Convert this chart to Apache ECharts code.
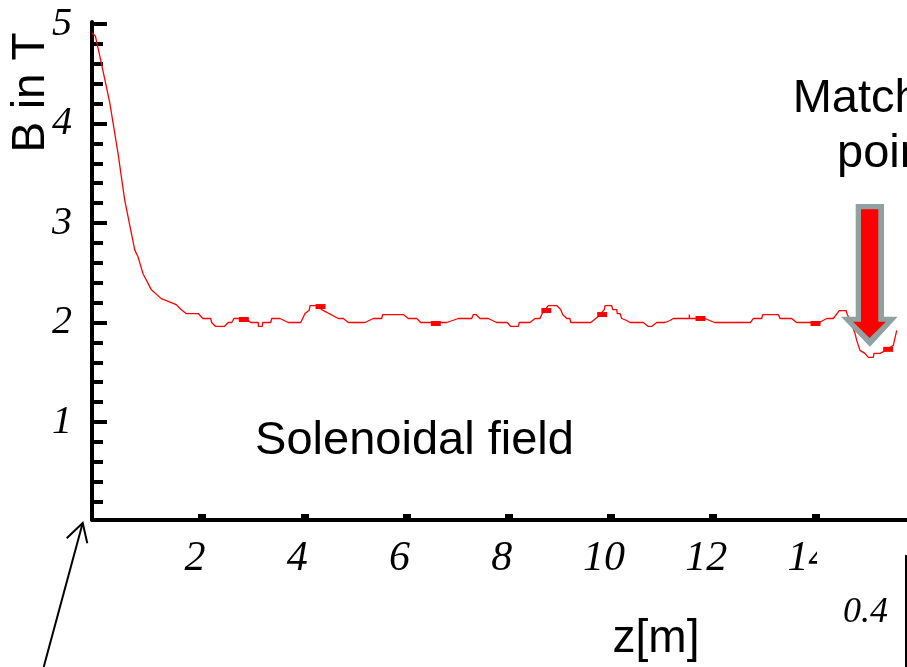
<!DOCTYPE html>
<html><head><meta charset="utf-8">
<script src="https://cdn.jsdelivr.net/npm/echarts@6/dist/echarts.min.js"></script>
<style>html,body{margin:0;padding:0;background:#fff}#c{width:907px;height:667px}</style>
</head><body><div id="c"></div>
<script>
// z in metres
const fieldZ = [-0.152,-0.087,0.030,0.195,0.357,0.488,0.684,0.748,0.846,1.008,1.204,1.497,1.570,1.687,1.928,
 2.014,2.170,2.189,2.267,2.436,2.514,2.581,2.626,2.730,2.906,2.953,3.101,3.102,3.179,3.187,3.344,3.363,3.526,3.688,3.931,
 4.015,4.093,4.113,4.244,4.341,4.666,4.764,4.862,5.188,5.351,5.515,5.535,5.937,6.035,6.200,6.278,6.786,
 7.013,7.275,7.307,7.359,7.438,7.600,7.764,7.972,8.038,8.187,8.206,8.416,8.513,8.611,8.664,8.774,8.938,9.016,9.055,9.134,9.198,9.212,9.603,
 9.752,9.869,9.883,10.014,10.033,10.112,10.123,10.176,10.210,10.307,10.372,10.632,10.730,10.796,10.894,11.056,11.154,11.219,11.532,11.532,11.533,11.836,
 12.025,12.729,12.783,12.948,12.967,13.273,13.306,13.535,13.632,14.075,14.219,14.348,14.466,14.597,14.622,14.695,
 14.773,14.806,14.871,14.968,15.033,15.131,15.145,15.262,15.340,15.522,15.589];
// B in T
const fieldB = [4.91,4.88,4.61,4.21,3.70,3.23,2.73,2.66,2.49,2.33,2.24,2.18,2.14,2.09,2.09,
 2.04,2.04,2.00,1.96,1.96,2.00,2.00,2.04,2.04,2.02,2.00,2.00,1.96,1.96,2.00,2.00,2.04,2.04,2.00,2.00,
 2.09,2.12,2.17,2.17,2.13,2.04,2.04,2.00,2.00,2.04,2.04,2.08,2.08,2.04,2.04,2.00,2.00,
 2.04,2.04,2.08,2.08,2.04,2.04,2.00,2.00,1.96,1.96,2.00,2.00,2.04,2.04,2.10,2.17,2.17,2.13,2.08,2.04,2.04,2.00,2.00,
 2.06,2.13,2.17,2.17,2.13,2.13,2.09,2.09,2.04,2.02,2.00,2.00,1.96,1.96,2.00,2.00,2.02,2.04,2.04,2.08,2.04,2.04,
 2.00,2.00,2.04,2.04,2.08,2.08,2.04,2.04,2.00,2.00,2.04,2.04,2.12,2.12,2.08,2.00,
 1.89,1.82,1.72,1.69,1.65,1.65,1.69,1.69,1.71,1.77,1.92];
const markerZ = [2.818,4.318,6.573,8.735,9.828,11.751,14.000,15.422];
const markerB = [2.03,2.16,1.99,2.12,2.08,2.04,1.99,1.73];
const xTickValues = [2,4,6,8,10,12,14];
const yTickValues = [1,2,3,4,5];
const yMinorTickValues = [0.2,0.4,0.6,0.8,1.2,1.4,1.6,1.8,2.2,2.4,2.6,2.8,3.2,3.4,3.6,3.8,4.2,4.4,4.6,4.8];
const yAxisTitle = 'B in T';
const xAxisTitle = 'z[m]';
const fieldNote = 'Solenoidal field';
const matchLine1 = 'Matching';
const matchLine2 = 'point';
const sideLabel = '0.4';

const lineData = fieldZ.map((z, i) => [z, fieldB[i]]);
const markData = markerZ.map((z, i) => [z, markerB[i]]);

const serif = {fontFamily: 'Liberation Serif', fontStyle: 'italic', color: '#000'};
const sans = 'Liberation Sans';

const chart = echarts.init(document.getElementById('c'));
chart.setOption({
  animation: false,
  backgroundColor: '#fff',
  grid: {left: 92, right: 0, top: 22, bottom: 147.5},
  xAxis: {
    type: 'value', min: -0.152, max: 15.79,
    axisLine: {onZero: false, lineStyle: {color: '#000', width: 4}},
    axisTick: {inside: true, length: 5.5, customValues: xTickValues, lineStyle: {color: '#000', width: 8}},
    axisLabel: Object.assign({customValues: xTickValues, fontSize: 42, margin: 18, padding: [0, 14, 0, 0]}, serif),
    splitLine: {show: false}
  },
  yAxis: [{
    type: 'value', min: 0.02, max: 5.02, position: 'left',
    axisLine: {onZero: false, lineStyle: {color: '#000', width: 4}},
    axisTick: {inside: true, length: 15, customValues: yTickValues, lineStyle: {color: '#000', width: 4}},
    axisLabel: Object.assign({customValues: yTickValues, fontSize: 40, margin: 20}, serif),
    splitLine: {show: false}
  }, {
    type: 'value', min: 0.02, max: 5.02, position: 'left', offset: 0,
    axisLine: {show: false, onZero: false},
    axisTick: {inside: true, length: 11, customValues: yMinorTickValues, lineStyle: {color: '#000', width: 4}},
    axisLabel: {show: false},
    splitLine: {show: false}
  }],
  series: [{
    type: 'line', data: lineData, showSymbol: false, symbol: 'none',
    lineStyle: {color: '#ff0000', width: 1.3}, z: 3
  }, {
    type: 'scatter', data: markData, symbol: 'rect', symbolSize: [10, 5],
    itemStyle: {color: '#ff0000', opacity: 1}, z: 4
  }],
  graphic: [
    {type: 'text', x: 31, y: 92.5, rotation: Math.PI / 2, z: 100,
     style: {text: yAxisTitle, font: '46px "' + sans + '"', fill: '#000', align: 'center', verticalAlign: 'middle'}},
    {type: 'text', x: 414.5, y: 441.5, z: 100,
     style: {text: fieldNote, font: '47px "' + sans + '"', fill: '#000', align: 'center', verticalAlign: 'middle'}},
    {type: 'text', x: 656, y: 639, z: 100,
     style: {text: xAxisTitle, font: '46px "' + sans + '"', fill: '#000', align: 'center', verticalAlign: 'middle'}},
    {type: 'text', x: 888, y: 98.7, z: 100,
     style: {text: matchLine1, font: '47px "' + sans + '"', fill: '#000', align: 'center', verticalAlign: 'middle'}},
    {type: 'text', x: 888, y: 153.7, z: 100,
     style: {text: matchLine2, font: '47px "' + sans + '"', fill: '#000', align: 'center', verticalAlign: 'middle'}},
    {type: 'polygon', z: 100,
     shape: {points: [[855.7,204],[884,204],[884,316.7],[897.7,316.7],[870,346.7],[841,316.7],[855.7,316.7]]},
     style: {fill: '#8fa1a1'}},
    {type: 'polygon', z: 101,
     shape: {points: [[861,209.3],[878.3,209.3],[878.3,321.7],[886,321.7],[869.5,338],[853,321.7],[861,321.7]]},
     style: {fill: '#ff0000'}},
    {type: 'rect', z: 100, shape: {x: 817, y: 536, width: 90, height: 131}, style: {fill: '#fff'}},
    {type: 'text', x: 865.5, y: 613, z: 101,
     style: {text: sideLabel, font: 'italic 36px "Liberation Serif"', fill: '#000', align: 'center', verticalAlign: 'middle'}},
    {type: 'line', z: 101, shape: {x1: 906, y1: 555, x2: 906, y2: 667}, style: {stroke: '#000', lineWidth: 2}},
    {type: 'line', z: 100, shape: {x1: 43.7, y1: 667, x2: 82.7, y2: 523}, style: {stroke: '#000', lineWidth: 2}},
    {type: 'polyline', z: 100, shape: {points: [[66.7,538.3],[82.7,523],[87.3,543.3]]}, style: {stroke: '#000', lineWidth: 2, fill: null}}
  ]
});
</script></body></html>
